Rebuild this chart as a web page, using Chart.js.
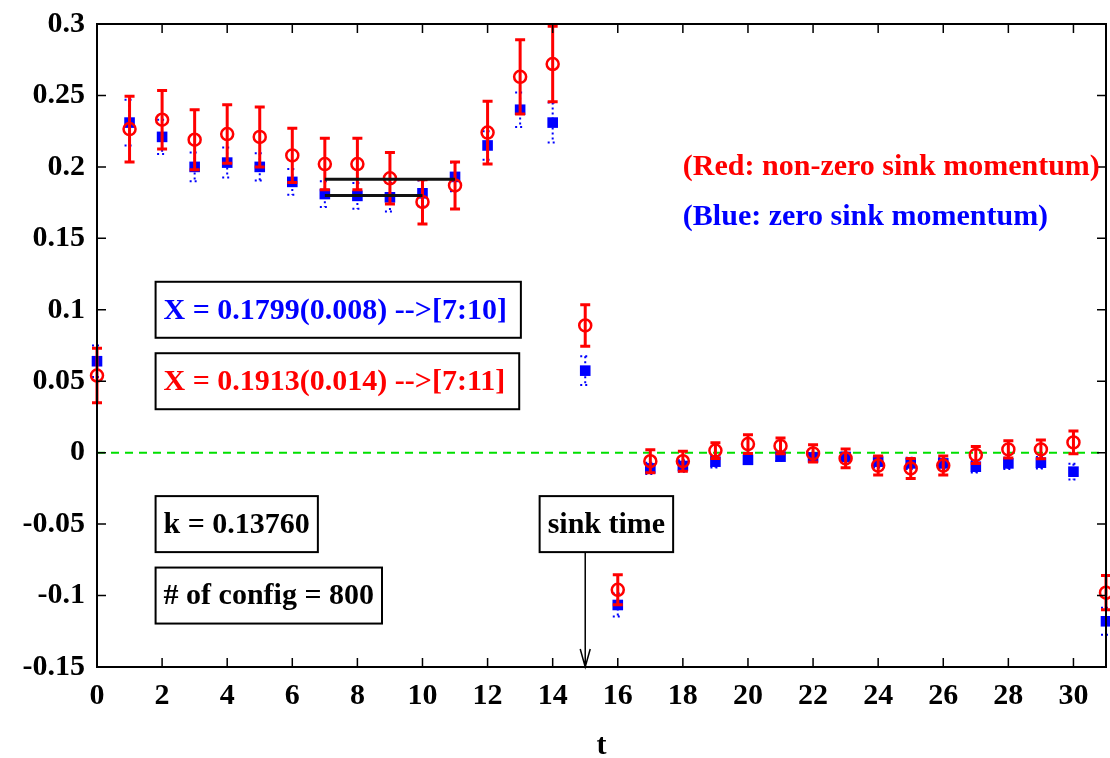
<!DOCTYPE html>
<html>
<head>
<meta charset="utf-8">
<title>Ratio vs t</title>
<script src="https://cdn.jsdelivr.net/npm/chart.js@4.4.1/dist/chart.umd.min.js"></script>
<style>
  html, body { margin: 0; padding: 0; background: #fff; }
</style>
</head>
<body>
<canvas id="chart" width="1110" height="758"></canvas>
<script>
// time slices
const tValues = [0, 1, 2, 3, 4, 5, 6, 7, 8, 9, 10, 11, 12, 13, 14, 15,
                 16, 17, 18, 19, 20, 21, 22, 23, 24, 25, 26, 27, 28, 29, 30, 31];

// non-zero sink momentum (red)
const redValues = [0.054, 0.2265, 0.233, 0.219, 0.223, 0.221, 0.208, 0.202, 0.202, 0.192, 0.1755, 0.187,
                   0.224, 0.263, 0.272, 0.089, -0.096, -0.006, -0.006, 0.0015, 0.006, 0.0047, -0.0005,
                   -0.004, -0.009, -0.011, -0.009, -0.0016, 0.0023, 0.0023, 0.0072, -0.098];
const redErrors = [0.019, 0.023, 0.0205, 0.021, 0.0205, 0.021, 0.019, 0.018, 0.018, 0.018, 0.0155, 0.0165,
                   0.022, 0.026, 0.0265, 0.0145, 0.0105, 0.008, 0.007, 0.0055, 0.0065, 0.0055, 0.006,
                   0.0065, 0.0067, 0.007, 0.0067, 0.006, 0.006, 0.0065, 0.008, 0.012];

// zero sink momentum (blue)
const blueValues = [0.064, 0.231, 0.221, 0.200, 0.203, 0.200, 0.1895, 0.181, 0.1797, 0.1787, 0.1815, 0.193,
                    0.215, 0.240, 0.231, 0.0574, -0.1066, -0.011, -0.0093, -0.0063, -0.005, -0.0028, -0.0033,
                    -0.003, -0.0063, -0.0075, -0.0075, -0.0098, -0.0075, -0.007, -0.0133, -0.118];
const blueErrors = [0.011, 0.016, 0.012, 0.010, 0.0105, 0.0095, 0.009, 0.009, 0.009, 0.010, 0.009, 0.010,
                    0.010, 0.012, 0.014, 0.010, 0.008, 0.004, 0.004, 0.004, 0.003, 0.003, 0.003,
                    0.003, 0.004, 0.004, 0.004, 0.004, 0.004, 0.004, 0.0055, 0.0095];

// plateau fits: value and fit range
const blueFit = [0.1799, 7, 10];
const redFit = [0.1913, 7, 11];
const zeroLine = [0, 0, 31];

const xTicks = [0, 2, 4, 6, 8, 10, 12, 14, 16, 18, 20, 22, 24, 26, 28, 30];
const yTicks = [-0.15, -0.1, -0.05, 0, 0.05, 0.1, 0.15, 0.2, 0.25, 0.3];
const yTickLabels = ['-0.15', '-0.1', '-0.05', '0', '0.05', '0.1', '0.15', '0.2', '0.25', '0.3'];

const sinkTime = 15;

const FONT_FAMILY = '"Liberation Serif", "Times New Roman", serif';
const font = { family: FONT_FAMILY, size: 30, weight: 'bold' };

function points(xs, ys) {
    return xs.map((x, i) => ({ x: x, y: ys[i] }));
}

function fitLine(fit) {
    return [{ x: fit[1], y: fit[0] }, { x: fit[2], y: fit[0] }];
}

// boxed labels and plain labels, anchored in data coordinates
const labels = [
    { text: 'X = 0.1799(0.008) -->[7:10]', color: '#0000ff', x: 1.8, y: 0.1, box: true, extra: 6 },
    { text: 'X = 0.1913(0.014) -->[7:11]', color: '#ff0000', x: 1.8, y: 0.05, box: true, extra: 6 },
    { text: 'k = 0.13760', color: '#000', x: 1.8, y: -0.05, box: true },
    { text: '# of config = 800', color: '#000', x: 1.8, y: -0.1, box: true },
    { text: 'sink time', color: '#000', x: 15.65, y: -0.05, box: true, center: true },
    { text: '(Red: non-zero sink momentum)', color: '#ff0000', x: 18, y: 0.2 },
    { text: '(Blue: zero sink momentum)', color: '#0000ff', x: 18, y: 0.165 }
];

const errorBars = {
    id: 'errorBars',
    beforeDatasetDraw(chart, args) {
        const ds = chart.data.datasets[args.index];
        if (!ds.errors) return;
        const xs = chart.scales.x, ys = chart.scales.y;
        const ctx = chart.ctx;
        ctx.save();
        ctx.strokeStyle = ds.borderColor;
        ctx.lineWidth = ds.errWidth;
        ctx.setLineDash(ds.errDash);
        ds.data.forEach((p, i) => {
            const px = xs.getPixelForValue(p.x);
            const top = ys.getPixelForValue(p.y + ds.errors[i]);
            const bot = ys.getPixelForValue(p.y - ds.errors[i]);
            ctx.beginPath();
            ctx.moveTo(px, top);
            ctx.lineTo(px, bot);
            ctx.moveTo(px - 5, top);
            ctx.lineTo(px + 5, top);
            ctx.moveTo(px - 5, bot);
            ctx.lineTo(px + 5, bot);
            ctx.stroke();
        });
        ctx.restore();
    }
};

const frameAndLabels = {
    id: 'frameAndLabels',
    afterDraw(chart) {
        const { ctx, chartArea: a } = chart;
        const xs = chart.scales.x, ys = chart.scales.y;
        ctx.save();

        // border with inward ticks on all sides
        ctx.strokeStyle = '#000';
        ctx.lineWidth = 2;
        ctx.strokeRect(a.left, a.top, a.right - a.left, a.bottom - a.top);
        ctx.lineWidth = 1.5;
        ctx.beginPath();
        xTicks.forEach(v => {
            const px = xs.getPixelForValue(v);
            ctx.moveTo(px, a.bottom); ctx.lineTo(px, a.bottom - 9);
            ctx.moveTo(px, a.top); ctx.lineTo(px, a.top + 9);
        });
        yTicks.forEach(v => {
            const py = ys.getPixelForValue(v);
            ctx.moveTo(a.left, py); ctx.lineTo(a.left + 9, py);
            ctx.moveTo(a.right, py); ctx.lineTo(a.right - 9, py);
        });
        ctx.stroke();

        // text labels
        ctx.font = 'bold 30px ' + FONT_FAMILY;
        ctx.textBaseline = 'middle';
        ctx.textAlign = 'left';
        let sinkBox = null;
        labels.forEach(l => {
            const w = ctx.measureText(l.text).width;
            const pad = 8, h = 56;
            const cy = ys.getPixelForValue(l.y);
            let left = xs.getPixelForValue(l.x);
            if (l.box) {
                const bw = w + 2 * pad + (l.extra || 0);
                if (l.center) left -= bw / 2;
                ctx.strokeStyle = '#000';
                ctx.lineWidth = 2;
                ctx.strokeRect(left, cy - h / 2, bw, h);
                if (l.center) sinkBox = cy + h / 2;
                ctx.fillStyle = l.color;
                ctx.fillText(l.text, left + pad, cy + 1);
            } else {
                ctx.fillStyle = l.color;
                ctx.fillText(l.text, left, cy);
            }
        });

        // arrow from the sink time box down to the axis
        const ax = xs.getPixelForValue(sinkTime);
        ctx.strokeStyle = '#000';
        ctx.lineWidth = 1.5;
        ctx.beginPath();
        ctx.moveTo(ax, sinkBox);
        ctx.lineTo(ax, a.bottom);
        ctx.moveTo(ax - 5, a.bottom - 18);
        ctx.lineTo(ax, a.bottom);
        ctx.lineTo(ax + 5, a.bottom - 18);
        ctx.stroke();

        ctx.restore();
    }
};

const ctx = document.getElementById('chart');

new Chart(ctx, {
    type: 'scatter',
    data: {
        datasets: [
            {
                label: 'fit red',
                data: fitLine(redFit),
                showLine: true,
                borderColor: '#111',
                borderWidth: 3,
                pointRadius: 0,
                order: 0
            },
            {
                label: 'fit blue',
                data: fitLine(blueFit),
                showLine: true,
                borderColor: '#111',
                borderWidth: 3,
                pointRadius: 0,
                order: 1
            },
            {
                label: 'non-zero sink momentum',
                data: points(tValues, redValues),
                errors: redErrors,
                errWidth: 3,
                errDash: [],
                borderColor: '#ff0000',
                backgroundColor: 'rgba(0,0,0,0)',
                pointStyle: 'circle',
                pointRadius: 6,
                pointBorderWidth: 2.5,
                clip: false,
                order: 2
            },
            {
                label: 'zero sink momentum',
                data: points(tValues, blueValues),
                errors: blueErrors,
                errWidth: 2,
                errDash: [2, 3],
                borderColor: '#0000ff',
                backgroundColor: '#0000ff',
                pointStyle: 'rect',
                pointRadius: 7.5,
                pointBorderWidth: 0,
                clip: false,
                order: 3
            },
            {
                label: 'zero',
                data: fitLine(zeroLine),
                showLine: true,
                borderColor: '#00e000',
                borderWidth: 2,
                borderDash: [8, 6],
                pointRadius: 0,
                order: 4
            }
        ]
    },
    options: {
        responsive: false,
        animation: false,
        devicePixelRatio: 1,
        layout: { autoPadding: false, padding: { top: 24, right: 4, left: 0, bottom: 0 } },
        plugins: {
            legend: { display: false },
            tooltip: { enabled: false }
        },
        scales: {
            x: {
                type: 'linear',
                min: 0,
                max: 31,
                grid: { display: false, drawTicks: false },
                border: { display: false },
                afterBuildTicks: scale => { scale.ticks = xTicks.map(v => ({ value: v })); },
                afterFit: scale => {
                    scale.height = 91;
                    scale.paddingLeft = 0;
                    scale.paddingRight = 0;
                },
                ticks: { font: font, color: '#000', padding: 11, maxRotation: 0, autoSkip: false },
                title: {
                    display: true,
                    text: 't',
                    font: { family: FONT_FAMILY, size: 30, weight: 'bold', lineHeight: 0.8 },
                    color: '#000',
                    padding: 0
                }
            },
            y: {
                type: 'linear',
                min: -0.15,
                max: 0.3,
                grid: { display: false, drawTicks: false },
                border: { display: false },
                afterBuildTicks: scale => { scale.ticks = yTicks.map(v => ({ value: v })); },
                afterFit: scale => {
                    scale.width = 97;
                    scale.paddingTop = 0;
                    scale.paddingBottom = 0;
                },
                ticks: {
                    font: font,
                    color: '#000',
                    padding: 12,
                    callback: (value, index) => yTickLabels[index]
                }
            }
        }
    },
    plugins: [errorBars, frameAndLabels]
});
</script>
</body>
</html>
